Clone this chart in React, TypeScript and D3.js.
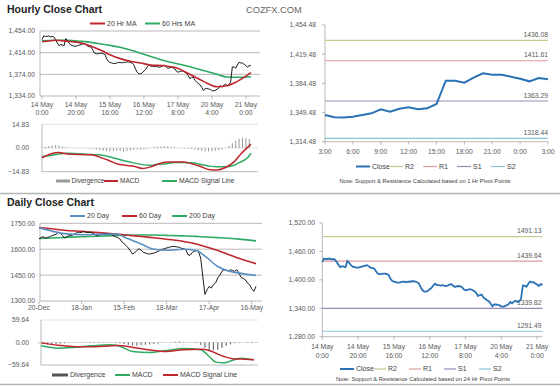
import React from 'react';
import * as d3 from 'd3';

// hourly closes, 14 May 0:00 .. 21 May 3:00 (trading hours only, one per hour)
const hourClose = [
  1438, 1445, 1444, 1444, 1445, 1443, 1444, 1443, 1438, 1432,
  1427, 1429, 1428, 1427, 1440, 1436, 1431, 1428, 1427, 1426,
  1426, 1427, 1428, 1429, 1430, 1431, 1428, 1426, 1425, 1424,
  1418, 1413, 1412, 1412, 1413, 1413, 1412, 1411, 1403, 1398,
  1396, 1395, 1394, 1394, 1395, 1396, 1396, 1395, 1396, 1396,
  1397, 1397, 1396, 1395, 1392, 1384, 1378, 1375, 1375, 1377,
  1380, 1383, 1388, 1392, 1389, 1389, 1388, 1389, 1388, 1387,
  1388, 1390, 1391, 1388, 1385, 1386, 1387, 1386, 1385, 1380,
  1378, 1379, 1380, 1380, 1378, 1376, 1372, 1366, 1368, 1369,
  1363, 1360, 1357, 1355, 1350, 1344, 1348, 1348, 1347, 1346.5,
  1343.7, 1343.5, 1344.5, 1346.5, 1348.5, 1353.3, 1350.5, 1354, 1355.7, 1353.3,
  1354.5, 1359.7, 1387.7, 1387.7, 1385.3, 1391.3, 1396.5, 1394.9, 1394.9, 1392.5,
  1390.1, 1386.9, 1390.9, 1389.3,
];
const hourLabels = [
  ['14 May', '0:00'], ['14 May', '20:00'], ['15 May', '16:00'], ['16 May', '12:00'],
  ['17 May', '8:00'], ['20 May', '4:00'], ['21 May', '0:00'],
];
const hourTicks = [1334, 1374, 1414, 1454];

// moving averages, sampled at these hour indexes
const maIdx = [0, 8, 15, 23, 29, 35, 40, 46, 52, 58, 64, 71, 79, 87, 95, 103, 109, 115, 123];
const ma20 = [1434, 1437, 1435, 1432, 1426, 1418, 1410, 1403, 1398, 1395, 1391, 1390, 1386, 1374, 1361, 1351, 1353, 1361, 1377];
const ma60 = [1436, 1437, 1437, 1435, 1433, 1430, 1427.5, 1424, 1419, 1413, 1407, 1400, 1394, 1388, 1381, 1374, 1369, 1368.5, 1369.5];

// hourly MACD
const hMacdIdx = [0, 5, 10, 15, 24, 29, 34, 39, 44, 49, 54, 59, 64, 68, 73, 78, 83, 88, 93, 98, 103, 108, 113, 117, 121, 123];
const hMacd = [-6.1, -3.7, -2.8, -3.7, -4.1, -4.3, -5.7, -7.7, -9.8, -10.8, -11.4, -12.8, -11.8, -10.2, -8.7, -8.7, -8.7, -9.8, -11.4, -13.4, -13.8, -12.2, -8.7, -3.7, 0.4, 2.4];
const hSignal = [-5.3, -4.7, -3.7, -3.3, -3.7, -4.1, -4.3, -5.3, -6.7, -8.1, -9.3, -10.4, -10.8, -10.2, -9.8, -9.1, -9.1, -9.3, -10.2, -11.2, -11.8, -11.8, -10.8, -8.7, -6.1, -3.3];
// divergence bars, every 2 hours
const hDiv = [
  0.3, 0.8, 1.2, 1.6, 1.8, 1.5, 1.0, 0.5, 0.2, 0.1, 0, 0, -0.1, -0.2, -0.3, -0.6,
  -1.0, -1.4, -1.8, -2.0, -2.2, -2.0, -1.8, -2.0, -2.2, -1.9, -1.6, -1.3, -1.0, -1.2, -0.8, -0.4,
  0.2, 0.6, 0.9, 1.1, 1.2, 1.0, 0.8, 0.5, 0.2, -0.1, -0.2, -0.4, -0.6, -1.0, -1.4, -1.8,
  -2.1, -2.2, -2.0, -1.8, -1.4, -0.8, 0.2, 1.5, 3.0, 4.5, 5.8, 6.4, 6.2, 5.8,
];
const hMacdTicks = [-14.83, 0, 14.83];

// last 24 hours (20 May 3:00 .. 21 May 3:00) with 1 hr pivots
const hrLabels = ['3:00', '6:00', '9:00', '12:00', '15:00', '18:00', '21:00', '0:00', '3:00'];
const hrTicks = [1314.48, 1349.48, 1384.48, 1419.48, 1454.48];
const pivotNames = ['R2', 'R1', 'S1', 'S2'];
const hrPivots = [1436.08, 1411.61, 1363.29, 1318.44];
const dayPivots = [1491.13, 1439.64, 1339.82, 1291.49];
const brTicks = [1280, 1340, 1400, 1460, 1520];

// daily closes, 20-Dec .. 20-May (trading days)
const dayClose = [
  1660, 1668, 1672, 1665, 1668, 1672, 1678, 1682, 1686, 1698,
  1693, 1680, 1665, 1672, 1678, 1678, 1684, 1690, 1697, 1695,
  1698, 1703, 1698, 1696, 1699, 1694, 1688, 1678, 1682, 1684,
  1688, 1690, 1692, 1688, 1684, 1678, 1672, 1668, 1660, 1642,
  1632, 1620, 1607, 1590, 1572, 1580, 1592, 1603, 1594, 1582,
  1578, 1574, 1572, 1575, 1578, 1582, 1588, 1594, 1600, 1603,
  1607, 1611, 1614, 1617, 1615, 1613, 1611, 1605, 1603, 1597,
  1568, 1565, 1580, 1588, 1592, 1584, 1549, 1440, 1338, 1365,
  1385, 1375, 1395, 1404, 1433, 1449, 1472, 1481, 1478, 1475,
  1481, 1476, 1472, 1481, 1462, 1437, 1430, 1423, 1404, 1394,
  1371, 1356, 1385,
];
const dayLabels = ['20-Dec', '18-Jan', '15-Feb', '18-Mar', '17-Apr', '16-May'];
const dayTicks = [1300, 1450, 1600, 1750];
const dayMaIdx = [0, 6, 12, 20, 28, 36, 42, 48, 54, 60, 68, 74, 78, 84, 89, 95, 102];
const ma20d = [1725, 1705, 1690, 1684, 1686, 1688, 1660, 1630, 1600, 1594, 1600, 1592, 1560, 1500, 1474, 1460, 1448];
const ma60d = [1725, 1718, 1710, 1703, 1696, 1688, 1681, 1674, 1666, 1658, 1645, 1630, 1616, 1592, 1570, 1543, 1516];
const ma200d = [1662, 1665, 1668, 1672, 1675, 1679, 1681, 1682, 1682, 1680, 1677, 1674, 1671, 1667, 1663, 1657, 1648];

// daily MACD
const dMacdIdx = [1, 9, 17, 25, 33, 37, 40, 44, 52, 60, 68, 76, 80, 83, 87, 91, 95, 101];
const dMacd = [-8.7, -15, -12.4, -8.7, -6, -8, -15, -23.8, -26.5, -21, -15.9, -19.4, -37, -52, -54, -47, -41.5, -46];
const dSignal = [-1, -7, -11, -11, -9, -8, -9, -13, -20, -24, -19, -18, -21, -28, -37, -43, -44, -46];
// divergence bars, every 2 days
const dDiv = [
  -2, -4, -5, -5, -4, -3, -2, -1, 0, 0, 0.5, 1, 1.5, 1.5, 1, 0.5, 0, -0.5, -1, -2,
  -4, -6, -8, -8, -7, -6, -5, -4, -3, -1, 0, 1, 2, 2.5, 1.5, 0.5, -0.5, -1.5, -6, -14,
  -20, -21, -19, -14, -9, -5, -2, -1, 0, 1, 1.5, 1,
];
const dMacdTicks = [-59.64, 0, 59.64];

const FONT = '"Liberation Sans", Arial, sans-serif';
const AXIS = '#595959';
const GRID = '#a6a6a6';
const RED = '#c0262d';
const GREEN = '#2eaa62';
const BLUE20 = '#5b8fc3';
const CLOSE = '#2a72b5';
const pivotColors = ['#c8c98e', '#e39a9a', '#9a8cb8', '#86c5d8'];

const f2 = d3.format(',.2f');
const f2n = d3.format('.2f');

type P = [number, number];
const zip = (idx: number[], v: number[]): P[] => idx.map((d, i) => [d, v[i]]);

const LegLine = ({ x, y, color, label, w = 15, sw = 2, fs = 7 }: any) => (
  <g>
    <line x1={x} x2={x + w} y1={y} y2={y} stroke={color} strokeWidth={sw} />
    <text x={x + w + 2} y={y + fs * 0.34} fontSize={fs} fill="#404040">{label}</text>
  </g>
);

const App = () => {
  // ---- hourly (top left)
  const hx = d3.scaleLinear().domain([0, 123]).range([42, 251]);
  const hy = d3.scaleLinear().domain([1334, 1454]).range([96, 31]);
  const hmy = d3.scaleLinear().domain([-14.83, 14.83]).range([171.7, 124.3]);
  const hLine = d3.line<number>().x((d, i) => hx(i)).y(d => hy(d));
  const hMa = d3.line<P>().x(d => hx(d[0])).y(d => hy(d[1])).curve(d3.curveMonotoneX);
  const hMacdLine = d3.line<P>().x(d => hx(d[0])).y(d => hmy(d[1])).curve(d3.curveMonotoneX);

  // ---- last 24h (top right)
  const rx = d3.scaleLinear().domain([0, 24]).range([325, 548]);
  const ry = d3.scaleLinear().domain([1314.48, 1454.48]).range([141.7, 25]);
  const last24 = hourClose.slice(hourClose.length - 25);
  const rLine = d3.line<number>().x((d, i) => rx(i)).y(d => ry(d));

  // ---- hourly with 24h pivots (bottom right)
  const bx = d3.scaleLinear().domain([0, 123]).range([322.3, 542.5]);
  const by = d3.scaleLinear().domain([1280, 1520]).range([336.7, 223]);
  const bLine = d3.line<number>().x((d, i) => bx(i)).y(d => by(d));

  // ---- daily (bottom left)
  const dx = d3.scaleLinear().domain([0, 102]).range([39, 256]);
  const dy = d3.scaleLinear().domain([1300, 1750]).range([301, 223.3]);
  const dmy = d3.scaleLinear().domain([-59.64, 59.64]).range([365, 320]);
  const dLine = d3.line<number>().x((d, i) => dx(i)).y(d => dy(d));
  const dMa = d3.line<P>().x(d => dx(d[0])).y(d => dy(d[1])).curve(d3.curveMonotoneX);
  const dMacdLine = d3.line<P>().x(d => dx(d[0])).y(d => dmy(d[1])).curve(d3.curveMonotoneX);

  return (
    <svg width={560} height={386} style={{ position: 'absolute', left: 0, top: 0, background: '#fff' }} fontFamily={FONT}>
      <rect width={560} height={386} fill="#fff" />

      {/* titles */}
      <text x={7} y={12.5} fontSize={10.5} fontWeight="bold" fill="#222">Hourly Close Chart</text>
      <text x={246} y={12.5} fontSize={9.3} fill="#666">COZFX.COM</text>
      <text x={7} y={206} fontSize={10.5} fontWeight="bold" fill="#222">Daily Close Chart</text>

      {/* ===== top left: hourly close + MAs ===== */}
      <LegLine x={90} y={23.5} color={RED} label="20 Hr MA" />
      <LegLine x={145} y={23.5} color={GREEN} label="60 Hrs MA" />
      {hourTicks.map(t => (
        <g key={t}>
          <line x1={40} x2={260} y1={hy(t)} y2={hy(t)} stroke={GRID} strokeWidth={0.8} />
          <text x={35} y={hy(t) + 2.4} fontSize={6.8} textAnchor="end" fill={AXIS}>{f2(t)}</text>
        </g>
      ))}
      <line x1={40} x2={40} y1={hy(1454)} y2={hy(1334)} stroke={GRID} strokeWidth={0.8} />
      {hourLabels.map((l, i) => (
        <g key={i}>
          <line x1={hx(i * 20)} x2={hx(i * 20)} y1={96} y2={99} stroke={GRID} strokeWidth={0.8} />
          <text x={hx(i * 20)} y={106.5} fontSize={6.8} textAnchor="middle" fill={AXIS}>{l[0]}</text>
          <text x={hx(i * 20)} y={115} fontSize={6.8} textAnchor="middle" fill={AXIS}>{l[1]}</text>
        </g>
      ))}
      <path d={hMa(zip(maIdx, ma60)) || ''} fill="none" stroke={GREEN} strokeWidth={1.6} />
      <path d={hLine(hourClose) || ''} fill="none" stroke="#1a1a1a" strokeWidth={1} />
      <path d={hMa(zip(maIdx, ma20)) || ''} fill="none" stroke={RED} strokeWidth={1.6} />

      {/* hourly MACD */}
      {hMacdTicks.map(t => (
        <g key={t}>
          <line x1={42} x2={258} y1={hmy(t)} y2={hmy(t)} stroke={t === -14.83 ? GRID : '#d9d9d9'} strokeWidth={0.8} />
          <text x={29} y={hmy(t) + 2.4} fontSize={6.8} textAnchor="end" fill={AXIS}>{f2n(t)}</text>
        </g>
      ))}
      <line x1={42} x2={42} y1={hmy(14.83)} y2={hmy(-14.83)} stroke={GRID} strokeWidth={0.8} />
      {hDiv.map((v, i) => (
        <rect key={i} x={hx(i * 2) - 0.5} width={1} y={Math.min(hmy(v), hmy(0))}
          height={Math.abs(hmy(v) - hmy(0))} fill="#9a9a9a" />
      ))}
      <path d={hMacdLine(zip(hMacdIdx, hSignal)) || ''} fill="none" stroke={GREEN} strokeWidth={1.5} />
      <path d={hMacdLine(zip(hMacdIdx, hMacd)) || ''} fill="none" stroke={RED} strokeWidth={1.5} />
      <rect x={56} y={179.5} width={14} height={3} fill="#9a9a9a" />
      <text x={71.5} y={183.2} fontSize={6.5} fill="#404040">Divergence</text>
      <LegLine x={104} y={181} color={RED} label="MACD" w={14} fs={6.5} />
      <LegLine x={162} y={181} color={GREEN} label="MACD Signal Line" w={15} fs={6.8} />

      {/* ===== top right: last 24 hours ===== */}
      {hrTicks.map(t => (
        <g key={t}>
          <line x1={322} x2={325} y1={ry(t)} y2={ry(t)} stroke={GRID} strokeWidth={0.8} />
          <text x={316} y={ry(t) + 2.4} fontSize={6.8} textAnchor="end" fill={AXIS}>{f2(t)}</text>
        </g>
      ))}
      <line x1={325} x2={325} y1={25} y2={141.7} stroke={GRID} strokeWidth={0.8} />
      <line x1={325} x2={548} y1={141.7} y2={141.7} stroke={GRID} strokeWidth={0.8} />
      {hrLabels.map((l, i) => (
        <g key={i}>
          <line x1={rx(i * 3)} x2={rx(i * 3)} y1={141.7} y2={144.5} stroke={GRID} strokeWidth={0.8} />
          <text x={rx(i * 3)} y={154} fontSize={6.8} textAnchor="middle" fill={AXIS}>{l}</text>
        </g>
      ))}
      {hrPivots.map((v, i) => (
        <g key={i}>
          <line x1={325} x2={548} y1={ry(v)} y2={ry(v)} stroke={pivotColors[i]} strokeWidth={1.2} />
          <text x={548} y={ry(v) - 3.5} fontSize={6.8} textAnchor="end" fill={AXIS}>{f2n(v)}</text>
        </g>
      ))}
      <path d={rLine(last24) || ''} fill="none" stroke={CLOSE} strokeWidth={2} />
      <LegLine x={356} y={166.5} color={CLOSE} label="Close" w={14} />
      {pivotNames.map((n, i) => (
        <LegLine key={n} x={389 + i * 34} y={166.5} color={pivotColors[i]} label={n} w={14} sw={1.2} />
      ))}
      <text x={425} y={182.5} fontSize={5.8} textAnchor="middle" fill="#404040">
        Note: Support &amp; Resistance Calculated based on 1 Hr Pivot Points
      </text>

      {/* separators */}
      <line x1={0} x2={560} y1={193.5} y2={193.5} stroke="#b5b5b5" strokeWidth={1.5} />
      <line x1={0} x2={560} y1={384.5} y2={384.5} stroke="#b5b5b5" strokeWidth={1.5} />

      {/* ===== bottom left: daily ===== */}
      <LegLine x={70} y={216} color={BLUE20} label="20 Day" />
      <LegLine x={122} y={216} color={RED} label="60 Day" />
      <LegLine x={172} y={216} color={GREEN} label="200 Day" />
      {dayTicks.map(t => (
        <g key={t}>
          <line x1={40} x2={262} y1={dy(t)} y2={dy(t)} stroke={GRID} strokeWidth={0.8} />
          <text x={35} y={dy(t) + 2.4} fontSize={6.8} textAnchor="end" fill={AXIS}>{f2n(t)}</text>
        </g>
      ))}
      <line x1={40} x2={40} y1={dy(1750)} y2={dy(1300)} stroke={GRID} strokeWidth={0.8} />
      {dayLabels.map((l, i) => (
        <g key={l}>
          <line x1={dx(i * 20)} x2={dx(i * 20)} y1={301} y2={304} stroke={GRID} strokeWidth={0.8} />
          <text x={dx(i * 20)} y={309.5} fontSize={6.8} textAnchor="middle" fill={AXIS}>{l}</text>
        </g>
      ))}
      <path d={dMa(zip(dayMaIdx, ma200d)) || ''} fill="none" stroke={GREEN} strokeWidth={1.6} />
      <path d={dMa(zip(dayMaIdx, ma60d)) || ''} fill="none" stroke={RED} strokeWidth={1.6} />
      <path d={dLine(dayClose) || ''} fill="none" stroke="#1a1a1a" strokeWidth={1} />
      <path d={dMa(zip(dayMaIdx, ma20d)) || ''} fill="none" stroke={BLUE20} strokeWidth={1.6} />

      {/* daily MACD */}
      {dMacdTicks.map(t => (
        <g key={t}>
          <line x1={41} x2={258} y1={dmy(t)} y2={dmy(t)} stroke={t === -59.64 ? GRID : '#d9d9d9'} strokeWidth={0.8} />
          <text x={29} y={dmy(t) + 2.4} fontSize={6.8} textAnchor="end" fill={AXIS}>{f2n(t)}</text>
        </g>
      ))}
      <line x1={41} x2={41} y1={dmy(59.64)} y2={dmy(-59.64)} stroke={GRID} strokeWidth={0.8} />
      {dDiv.map((v, i) => (
        <rect key={i} x={dx(i * 2) - 0.6} width={1.2} y={Math.min(dmy(v), dmy(0))}
          height={Math.abs(dmy(v) - dmy(0))} fill="#6b6b6b" />
      ))}
      <path d={dMacdLine(zip(dMacdIdx, dMacd)) || ''} fill="none" stroke={GREEN} strokeWidth={1.5} />
      <path d={dMacdLine(zip(dMacdIdx, dSignal)) || ''} fill="none" stroke={RED} strokeWidth={1.5} />
      <rect x={52} y={373.5} width={16} height={3} fill="#555" />
      <text x={70} y={377.4} fontSize={7} fill="#404040">Divergence</text>
      <LegLine x={115} y={375} color={GREEN} label="MACD" />
      <LegLine x={163} y={375} color={RED} label="MACD Signal Line" />

      {/* ===== bottom right: hourly with 24 hr pivots ===== */}
      {brTicks.map(t => (
        <g key={t}>
          <line x1={319.5} x2={322.3} y1={by(t)} y2={by(t)} stroke={GRID} strokeWidth={0.8} />
          <text x={315} y={by(t) + 2.4} fontSize={6.8} textAnchor="end" fill={AXIS}>{f2(t)}</text>
        </g>
      ))}
      <line x1={322.3} x2={322.3} y1={223} y2={336.7} stroke={GRID} strokeWidth={0.8} />
      <line x1={322.3} x2={542.5} y1={336.7} y2={336.7} stroke={GRID} strokeWidth={0.8} />
      {hourLabels.map((l, i) => (
        <g key={i}>
          <line x1={bx(i * 20)} x2={bx(i * 20)} y1={336.7} y2={339.5} stroke={GRID} strokeWidth={0.8} />
          <text x={bx(i * 20)} y={349} fontSize={6.8} textAnchor="middle" fill={AXIS}>{l[0]}</text>
          <text x={bx(i * 20)} y={357.5} fontSize={6.8} textAnchor="middle" fill={AXIS}>{l[1]}</text>
        </g>
      ))}
      {dayPivots.map((v, i) => (
        <g key={i}>
          <line x1={322.3} x2={542.5} y1={by(v)} y2={by(v)} stroke={pivotColors[i]} strokeWidth={1.2} />
          <text x={541.5} y={by(v) - 3.5} fontSize={6.8} textAnchor="end" fill={AXIS}>{f2n(v)}</text>
        </g>
      ))}
      <path d={bLine(hourClose) || ''} fill="none" stroke={CLOSE} strokeWidth={1.8} />
      <LegLine x={340} y={369} color={CLOSE} label="Close" w={14} />
      {pivotNames.map((n, i) => (
        <LegLine key={n} x={374 + i * 35} y={369} color={pivotColors[i]} label={n} w={12} sw={1.2} />
      ))}
      <text x={423} y={380.5} fontSize={5.8} textAnchor="middle" fill="#404040">
        Note: Support &amp; Resistance Calculated based on 24 Hr Pivot Points
      </text>
    </svg>
  );
};

export default App;
